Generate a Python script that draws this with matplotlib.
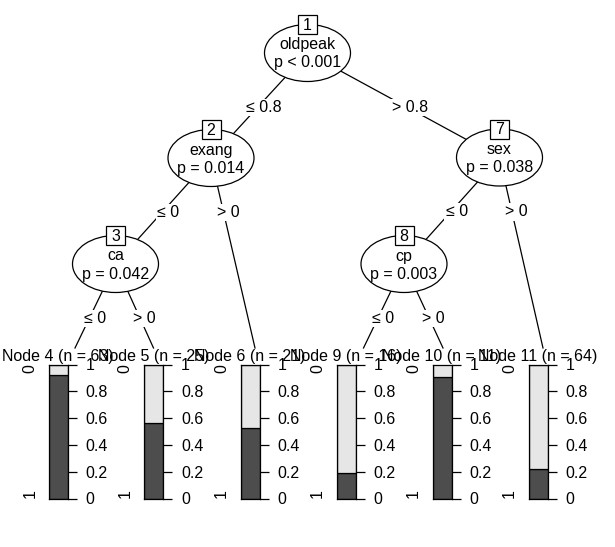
import matplotlib
matplotlib.use('Agg')
import matplotlib.pyplot as plt
from matplotlib.patches import Ellipse, Rectangle

plt.rcParams['font.family'] = ['Liberation Sans', 'DejaVu Sans']

# ---------------- data ----------------
inner_ids = [1, 2, 3, 7, 8]
inner_vars = ["oldpeak", "exang", "ca", "sex", "cp"]
inner_pvals = ["p < 0.001", "p = 0.014", "p = 0.042", "p = 0.038", "p = 0.003"]

term_ids = [4, 5, 6, 9, 10, 11]
term_n = [63, 25, 21, 16, 11, 64]
term_prop1 = [0.921, 0.56, 0.524, 0.1875, 0.909, 0.219]   # share of class "1" (dark)
class_levels = ["0", "1"]

edge_parent = [1, 1, 2, 2, 3, 3, 7, 7, 8, 8]
edge_child = [2, 7, 3, 6, 4, 5, 8, 11, 9, 10]
edge_labels = ["≤ 0.8", "> 0.8", "≤ 0", "> 0", "≤ 0", "> 0", "≤ 0", "> 0", "≤ 0", "> 0"]

axis_ticks = [0, 0.2, 0.4, 0.6, 0.8, 1]
axis_ticklabels = ["0", "0.2", "0.4", "0.6", "0.8", "1"]

# ---------------- layout (pixels) ----------------
W, H = 615, 547
inner_pos = {1: (307.5, 53), 2: (211, 158), 3: (115.5, 264), 7: (499.5, 157.5), 8: (404, 264)}
term_x = {4: 58.3, 5: 153.6, 6: 250, 9: 346, 10: 442, 11: 538}
edge_end_x = {4: 75, 5: 153.5, 6: 255, 9: 363.5, 10: 443, 11: 543}
edge_end_y = 348
ell_w, ell_h = 86, 57
box_s = 19
bar_w, bar_top, bar_bot = 19, 364.5, 498.5
FS = 11.5
dark, light = '#4D4D4D', '#E6E6E6'

fig = plt.figure(figsize=(W / 100, H / 100), dpi=100)
ax = fig.add_axes([0, 0, 1, 1])
ax.set_xlim(0, W)
ax.set_ylim(H, 0)
ax.axis('off')

# edges
for p, c, lab in zip(edge_parent, edge_child, edge_labels):
    x0, y0 = inner_pos[p]
    if c in inner_pos:
        x1, y1 = inner_pos[c]
    else:
        x1, y1 = edge_end_x[c], edge_end_y
    ax.plot([x0, x1], [y0, y1], color='black', lw=0.9, zorder=1)
    yc = y0 + 53
    xc = x0 + (x1 - x0) * (yc - y0) / (y1 - y0)
    ax.text(xc + 5, yc + 6, lab, ha='center', va='baseline', fontsize=FS, zorder=4,
            bbox=dict(facecolor='white', edgecolor='none', pad=1.0))

# inner nodes
for nid, var, pv in zip(inner_ids, inner_vars, inner_pvals):
    x, y = inner_pos[nid]
    ax.add_patch(Ellipse((x, y), ell_w, ell_h, facecolor='white', edgecolor='black', lw=0.9, zorder=2))
    ax.text(x, y - 3.5, var, ha='center', va='baseline', fontsize=FS, zorder=3)
    ax.text(x, y + 14.5, pv, ha='center', va='baseline', fontsize=FS, zorder=3)
    by = y - ell_h / 2
    ax.add_patch(Rectangle((x - box_s / 2, by - box_s / 2), box_s, box_s, facecolor='white',
                           edgecolor='black', lw=0.9, zorder=5))
    ax.text(x, by + 5.5, str(nid), ha='center', va='baseline', fontsize=FS, zorder=6)

# terminal nodes
for tid, n, p1 in zip(term_ids, term_n, term_prop1):
    cx = term_x[tid]
    ax.text(cx, 361, f"Node {tid} (n = {n})", ha='center', va='baseline', fontsize=FS, zorder=6)
    left = cx - bar_w / 2
    ax.text(left - 19, bar_top, class_levels[0], rotation=90, rotation_mode='anchor',
            ha='right', va='center', fontsize=FS, zorder=6)
    ax.text(left - 19, bar_bot, class_levels[1], rotation=90, rotation_mode='anchor',
            ha='left', va='center', fontsize=FS, zorder=6)
    bax = fig.add_axes([left / W, 1 - bar_bot / H, bar_w / W, (bar_bot - bar_top) / H])
    bax.bar(0, p1, width=1, bottom=0, color=dark, edgecolor='black', lw=0.9)
    bax.bar(0, 1 - p1, width=1, bottom=p1, color=light, edgecolor='black', lw=0.9)
    bax.set_xlim(-0.5, 0.5)
    bax.set_ylim(0, 1)
    bax.set_xticks([])
    bax.yaxis.tick_right()
    bax.set_yticks(axis_ticks)
    bax.set_yticklabels(axis_ticklabels)
    bax.tick_params(axis='y', length=6.5, width=0.9, pad=6.5, labelsize=FS, direction='out')
    for s in bax.spines.values():
        s.set_linewidth(0.9)
    bax.patch.set_alpha(0)

fig.savefig('out.png', dpi=100)
